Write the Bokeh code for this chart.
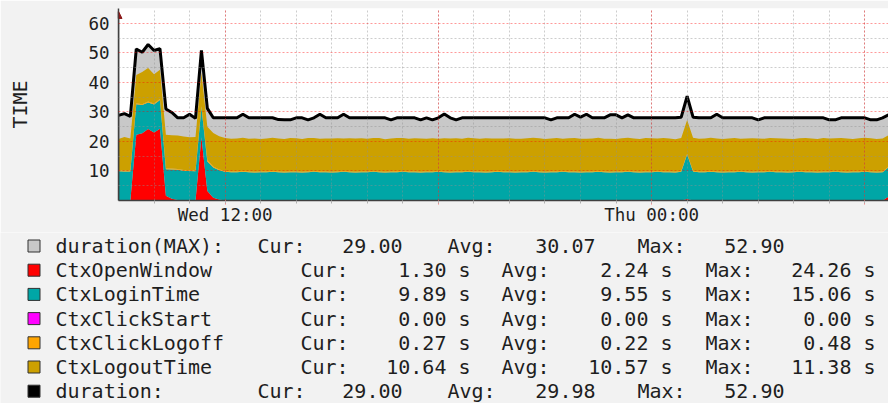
from bokeh.plotting import figure
from bokeh.models import Range1d, FixedTicker, Arrow, NormalHead, ColumnDataSource
from bokeh.layouts import column, row
from bokeh.embed import file_html
from bokeh.resources import INLINE
from bokeh.core.properties import value

# ---------------- data (10-minute samples from Wed 09:00) ----------------
START_HOUR = 9.0
STEP_MINUTES = 10

duration = [
    28.8, 29.4, 28.5, 51.3, 50.2, 52.8, 50.8, 51.4, 31.0, 29.8,
    28.0, 28.0, 29.2, 27.8, 50.8, 31.2, 28.0, 28.0, 28.0, 28.0,
    28.0, 29.2, 28.0, 28.0, 28.0, 28.0, 28.0, 27.4, 27.3, 27.3,
    28.0, 28.0, 27.3, 28.0, 29.2, 28.0, 28.0, 28.0, 29.2, 28.0,
    28.0, 28.0, 28.0, 28.0, 28.0, 28.0, 27.3, 28.0, 28.0, 28.0,
    28.0, 27.3, 28.0, 27.3, 28.0, 29.3, 28.0, 27.3, 28.0, 28.0,
    28.0, 28.0, 28.0, 28.0, 28.0, 28.0, 28.0, 28.0, 28.0, 28.0,
    28.0, 28.0, 28.0, 27.3, 28.0, 28.0, 28.0, 29.2, 28.2, 29.2,
    28.0, 28.0, 28.0, 29.0, 29.0, 28.0, 29.0, 28.0, 28.0, 28.0,
    28.0, 28.0, 28.0, 28.0, 28.0, 28.2, 35.3, 28.2, 28.0, 28.0,
    28.0, 29.2, 28.0, 28.0, 28.0, 28.0, 28.0, 28.0, 27.3, 28.0,
    28.0, 28.0, 28.0, 28.0, 28.0, 28.0, 28.0, 28.0, 28.0, 28.0,
    27.3, 27.3, 28.0, 28.0, 28.0, 28.0, 28.0, 27.3, 27.3, 28.0,
    29.0,
]

duration_max = [
    28.8, 29.4, 28.5, 51.3, 50.2, 52.9, 50.8, 51.4, 31.0, 29.8,
    28.0, 28.0, 29.2, 27.8, 50.8, 31.2, 28.0, 28.0, 28.0, 28.0,
    28.0, 29.2, 28.0, 28.0, 28.0, 28.0, 28.0, 27.4, 27.3, 27.3,
    28.0, 28.0, 27.3, 28.0, 29.2, 28.0, 28.0, 28.0, 29.2, 28.0,
    28.0, 28.0, 28.0, 28.0, 28.0, 28.0, 27.3, 28.0, 28.0, 28.0,
    28.0, 27.3, 28.0, 27.3, 28.0, 29.3, 28.0, 27.3, 28.0, 28.0,
    28.0, 28.0, 28.0, 28.0, 28.0, 28.0, 28.0, 28.0, 28.0, 28.0,
    28.0, 28.0, 28.0, 27.3, 28.0, 28.0, 28.0, 29.2, 28.2, 29.2,
    28.0, 28.0, 28.0, 29.0, 29.0, 28.0, 29.0, 28.0, 28.0, 28.0,
    28.0, 28.0, 28.0, 28.0, 28.0, 28.2, 35.3, 28.2, 28.0, 28.0,
    28.0, 29.2, 28.0, 28.0, 28.0, 28.0, 28.0, 28.0, 27.3, 28.0,
    28.0, 28.0, 28.0, 28.0, 28.0, 28.0, 28.0, 28.0, 28.0, 28.0,
    27.3, 27.3, 28.0, 28.0, 28.0, 28.0, 28.0, 27.3, 27.3, 28.0,
    29.0,
]

ctx_open_window = [
    0.0, 0.0, 0.0, 22.3, 22.8, 24.2, 23.0, 24.26, 1.6, 0.6,
    0.2, 0.0, 0.0, 0.0, 21.4, 3.2, 0.9, 0.3, 0.0, 0.0,
    0.0, 0.0, 0.0, 0.0, 0.0, 0.0, 0.0, 0.0, 0.0, 0.0,
    0.0, 0.0, 0.0, 0.0, 0.0, 0.0, 0.0, 0.0, 0.0, 0.0,
    0.0, 0.0, 0.0, 0.0, 0.0, 0.0, 0.0, 0.0, 0.0, 0.0,
    0.0, 0.0, 0.0, 0.0, 0.0, 0.0, 0.0, 0.0, 0.0, 0.0,
    0.0, 0.0, 0.0, 0.0, 0.0, 0.0, 0.0, 0.0, 0.0, 0.0,
    0.0, 0.0, 0.0, 0.0, 0.0, 0.0, 0.0, 0.0, 0.0, 0.0,
    0.0, 0.0, 0.0, 0.0, 0.0, 0.0, 0.0, 0.0, 0.0, 0.0,
    0.0, 0.0, 0.0, 0.0, 0.0, 0.0, 0.5, 0.0, 0.0, 0.0,
    0.0, 0.0, 0.0, 0.0, 0.0, 0.0, 0.0, 0.0, 0.0, 0.0,
    0.0, 0.0, 0.0, 0.0, 0.0, 0.0, 0.0, 0.0, 0.0, 0.0,
    0.0, 0.0, 0.0, 0.0, 0.0, 0.0, 0.0, 0.0, 0.0, 0.0,
    1.3,
]

ctx_login_time = [
    9.9, 9.8, 9.8, 10.3, 9.5, 9.0, 9.5, 9.8, 9.0, 9.9,
    10.2, 10.1, 10.0, 9.9, 10.2, 10.0, 10.3, 9.9, 9.7, 9.6,
    9.6, 9.7, 9.6, 9.5, 9.6, 9.6, 9.7, 9.6, 9.5, 9.6,
    9.6, 9.5, 9.6, 9.7, 9.6, 9.6, 9.5, 9.6, 9.7, 9.6,
    9.5, 9.6, 9.6, 9.7, 9.6, 9.5, 9.6, 9.6, 9.7, 9.6,
    9.6, 9.5, 9.6, 9.6, 9.7, 9.6, 9.5, 9.6, 9.6, 9.7,
    9.6, 9.6, 9.5, 9.6, 9.7, 9.6, 9.6, 9.5, 9.6, 9.6,
    9.7, 9.6, 9.5, 9.6, 9.6, 9.7, 9.6, 9.6, 9.5, 9.6,
    9.6, 9.7, 9.6, 9.5, 9.6, 9.6, 9.7, 9.6, 9.5, 9.6,
    9.6, 9.7, 9.6, 9.6, 9.5, 9.7, 15.06, 9.8, 9.6, 9.6,
    9.7, 9.6, 9.5, 9.6, 9.6, 9.7, 9.6, 9.5, 9.6, 9.6,
    9.7, 9.6, 9.6, 9.5, 9.6, 9.7, 9.6, 9.6, 9.5, 9.6,
    9.6, 9.7, 9.6, 9.5, 9.6, 9.6, 9.7, 9.6, 9.5, 9.6,
    9.89,
]

ctx_click_start = [
    0.0, 0.0, 0.0, 0.0, 0.0, 0.0, 0.0, 0.0, 0.0, 0.0,
    0.0, 0.0, 0.0, 0.0, 0.0, 0.0, 0.0, 0.0, 0.0, 0.0,
    0.0, 0.0, 0.0, 0.0, 0.0, 0.0, 0.0, 0.0, 0.0, 0.0,
    0.0, 0.0, 0.0, 0.0, 0.0, 0.0, 0.0, 0.0, 0.0, 0.0,
    0.0, 0.0, 0.0, 0.0, 0.0, 0.0, 0.0, 0.0, 0.0, 0.0,
    0.0, 0.0, 0.0, 0.0, 0.0, 0.0, 0.0, 0.0, 0.0, 0.0,
    0.0, 0.0, 0.0, 0.0, 0.0, 0.0, 0.0, 0.0, 0.0, 0.0,
    0.0, 0.0, 0.0, 0.0, 0.0, 0.0, 0.0, 0.0, 0.0, 0.0,
    0.0, 0.0, 0.0, 0.0, 0.0, 0.0, 0.0, 0.0, 0.0, 0.0,
    0.0, 0.0, 0.0, 0.0, 0.0, 0.0, 0.0, 0.0, 0.0, 0.0,
    0.0, 0.0, 0.0, 0.0, 0.0, 0.0, 0.0, 0.0, 0.0, 0.0,
    0.0, 0.0, 0.0, 0.0, 0.0, 0.0, 0.0, 0.0, 0.0, 0.0,
    0.0, 0.0, 0.0, 0.0, 0.0, 0.0, 0.0, 0.0, 0.0, 0.0,
    0.0,
]

ctx_click_logoff = [
    0.25, 0.28, 0.26, 0.30, 0.30, 0.30, 0.30, 0.30, 0.35, 0.30,
    0.26, 0.24, 0.25, 0.27, 0.30, 0.48, 0.30, 0.26, 0.25, 0.24,
    0.22, 0.25, 0.20, 0.27, 0.24, 0.21, 0.26, 0.23, 0.25, 0.22,
    0.24, 0.21, 0.25, 0.22, 0.27, 0.20, 0.23, 0.25, 0.21, 0.24,
    0.22, 0.26, 0.20, 0.24, 0.23, 0.25, 0.21, 0.27, 0.22, 0.24,
    0.25, 0.21, 0.23, 0.26, 0.20, 0.24, 0.22, 0.25, 0.23, 0.21,
    0.24, 0.22, 0.26, 0.21, 0.25, 0.23, 0.20, 0.24, 0.22, 0.25,
    0.21, 0.26, 0.23, 0.22, 0.24, 0.20, 0.25, 0.23, 0.21, 0.24,
    0.22, 0.25, 0.20, 0.24, 0.23, 0.26, 0.21, 0.22, 0.25, 0.23,
    0.24, 0.21, 0.26, 0.22, 0.23, 0.25, 0.30, 0.24, 0.21, 0.23,
    0.25, 0.22, 0.24, 0.20, 0.26, 0.23, 0.21, 0.25, 0.22, 0.24,
    0.23, 0.21, 0.25, 0.22, 0.26, 0.20, 0.24, 0.23, 0.21, 0.25,
    0.22, 0.24, 0.23, 0.26, 0.21, 0.25, 0.22, 0.24, 0.20, 0.23,
    0.27,
]

ctx_logout_time = [
    10.7, 11.38, 10.9, 9.6, 10.9, 11.38, 9.9, 9.9, 11.3, 11.3,
    11.38, 11.3, 11.2, 11.3, 11.38, 11.3, 11.38, 11.3, 11.2, 11.1,
    11.2, 11.3, 11.1, 11.2, 11.0, 11.2, 11.3, 11.2, 11.1, 11.3,
    11.2, 11.1, 11.3, 11.2, 11.0, 11.2, 11.3, 11.2, 11.1, 11.2,
    11.3, 11.2, 11.1, 11.2, 11.3, 11.0, 11.2, 11.3, 11.2, 11.1,
    11.2, 11.3, 11.1, 11.2, 11.0, 11.2, 11.3, 11.2, 11.1, 11.3,
    11.2, 11.1, 11.3, 11.2, 11.0, 11.2, 11.3, 11.2, 11.1, 11.2,
    11.3, 11.2, 11.1, 11.2, 11.3, 11.0, 11.2, 11.3, 11.2, 11.1,
    11.2, 11.3, 11.1, 11.2, 11.0, 11.2, 11.3, 11.2, 11.1, 11.3,
    11.2, 11.1, 11.3, 11.2, 11.0, 11.2, 11.38, 11.2, 11.1, 11.2,
    11.3, 11.2, 11.1, 11.2, 11.3, 11.0, 11.2, 11.3, 11.2, 11.1,
    11.2, 11.3, 11.1, 11.2, 11.0, 11.2, 11.3, 11.2, 11.1, 11.3,
    11.2, 11.1, 11.3, 11.2, 11.0, 11.2, 11.3, 11.2, 11.1, 11.2,
    10.64,
]

x_major_ticks = [12, 18, 24, 30]
x_major_labels = ["Wed 12:00", "", "Thu 00:00", ""]
y_ticks = [10, 20, 30, 40, 50, 60]
y_axis_title = "TIME"

# legend table
dur_rows = ["duration(MAX):", "duration:"]
dur_cur = ["29.00", "29.00"]
dur_avg = ["30.07", "29.98"]
dur_max_txt = ["52.90", "52.90"]
series_names = ["CtxOpenWindow", "CtxLoginTime", "CtxClickStart", "CtxClickLogoff", "CtxLogoutTime"]
series_cur = ["1.30", "9.89", "0.00", "0.27", "10.64"]
series_avg = ["2.24", "9.55", "0.00", "0.22", "10.57"]
series_max = ["24.26", "15.06", "0.00", "0.48", "11.38"]

# ---------------- styling / layout ----------------
FONT = "DejaVu Sans Mono"
BG = "#f2f2f2"
C_MAX = "#c8c8c8"
SERIES_COLORS = ["#ff0000", "#00a6a6", "#ff00ff", "#ffa500", "#cca000"]
TXT = "#1e1e1e"

W = 888
TOP_H = 232
LEG_H = 403 - TOP_H
FRAME_L, FRAME_T, FRAME_B = 118, 8, 200

hours = [START_HOUR + k * STEP_MINUTES / 60.0 for k in range(len(duration))]
src = ColumnDataSource(dict(
    t=hours, dur=duration, dmax=duration_max,
    s_open=ctx_open_window, s_login=ctx_login_time, s_click=ctx_click_start,
    s_logoff=ctx_click_logoff, s_logout=ctx_logout_time,
))

p = figure(width=W, height=TOP_H, x_range=Range1d(9.0, 30.666), y_range=Range1d(0, 65),
           output_backend="svg", toolbar_location=None,
           min_border_left=FRAME_L, min_border_right=0,
           min_border_top=FRAME_T, min_border_bottom=TOP_H - FRAME_B,
           background_fill_color="#ffffff", border_fill_color=BG, outline_line_color=None)

p.varea(x="t", y1=0, y2="dmax", source=src, fill_color=C_MAX)
p.varea_stack(["s_open", "s_login", "s_click", "s_logoff", "s_logout"], x="t",
              color=SERIES_COLORS, source=src)
p.line("t", "dur", source=src, line_color="#000000", line_width=3)

# grids
hourly = list(range(10, 31))
p.xgrid.ticker = FixedTicker(ticks=x_major_ticks, minor_ticks=hourly)
p.ygrid.ticker = FixedTicker(ticks=[0] + y_ticks, minor_ticks=[5, 15, 25, 35, 45, 55])
for g in (p.xgrid, p.ygrid):
    g.level = "overlay"
    g.grid_line_color = "#ff0000"
    g.grid_line_alpha = 0.4
    g.grid_line_dash = "2 2"
    g.minor_grid_line_color = "#909090"
    g.minor_grid_line_alpha = 0.45
    g.minor_grid_line_dash = "2 2"

# axes
p.xaxis.ticker = FixedTicker(ticks=x_major_ticks, minor_ticks=hourly)
p.xaxis.major_label_overrides = {t: l for t, l in zip(x_major_ticks, x_major_labels)}
p.yaxis.ticker = FixedTicker(ticks=y_ticks)
for ax in (p.xaxis, p.yaxis):
    ax.axis_line_color = "#404040"
    ax.axis_line_width = 1.5
    ax.major_label_text_font = FONT
    ax.major_label_text_font_size = "17.5px"
    ax.major_label_text_color = TXT
p.xaxis.major_tick_in = 0
p.xaxis.major_tick_out = 4
p.xaxis.major_tick_line_color = "#ff8080"
p.xaxis.minor_tick_in = 0
p.xaxis.minor_tick_out = 3
p.xaxis.minor_tick_line_color = "#b0b0b0"
p.xaxis.major_label_standoff = 0
p.yaxis.major_tick_in = 0
p.yaxis.major_tick_out = 0
p.yaxis.minor_tick_line_color = None
p.yaxis.major_label_standoff = 9
p.yaxis.axis_label = y_axis_title
p.yaxis.axis_label_text_font = FONT
p.yaxis.axis_label_text_font_size = "20px"
p.yaxis.axis_label_text_font_style = "normal"
p.yaxis.axis_label_text_color = TXT
p.yaxis.axis_label_standoff = 53

p.add_layout(Arrow(end=NormalHead(size=7, fill_color="#8b1a1a", line_color="#8b1a1a"),
                   x_start=9.0, y_start=0, x_end=9.0, y_end=64.0,
                   line_color="#404040", line_width=1.5))

# ---------------- legend panel (coordinates = page pixels) ----------------
lg = figure(width=W, height=LEG_H, x_range=Range1d(0, W),
            y_range=Range1d(TOP_H + LEG_H, TOP_H),
            output_backend="svg", toolbar_location=None,
            min_border_left=0, min_border_right=0, min_border_top=0, min_border_bottom=0,
            x_axis_type=None, y_axis_type=None,
            background_fill_color=BG, border_fill_color=BG, outline_line_color=None)
lg.grid.visible = False

ROW0, ROW_STEP = 245.5, 24.2
row_y = [ROW0 + ROW_STEP * k for k in range(7)]
box_colors = [C_MAX] + SERIES_COLORS + ["#000000"]
lg.rect(x=[33.5] * 7, y=row_y, width=12, height=12, fill_color=box_colors,
        line_color="#303030", line_width=1)

lx, ly, lt = [], [], []
rx, ry, rt = [], [], []
for j, r in enumerate([0, 6]):
    y = row_y[r]
    lx += [55, 257, 447, 637]
    ly += [y] * 4
    lt += [dur_rows[j], "Cur:", "Avg:", "Max:"]
    rx += [402, 595, 784]
    ry += [y] * 3
    rt += [dur_cur[j], dur_avg[j], dur_max_txt[j]]
for k in range(len(series_names)):
    y = row_y[k + 1]
    lx += [55, 300, 501, 705]
    ly += [y] * 4
    lt += [series_names[k], "Cur:", "Avg:", "Max:"]
    rx += [470, 672, 875]
    ry += [y] * 3
    rt += [series_cur[k] + " s", series_avg[k] + " s", series_max[k] + " s"]

common = dict(text_font=value(FONT), text_font_size="20px", text_color=TXT,
              text_baseline="middle")
lg.text(x=lx, y=ly, text=lt, text_align="left", **common)
lg.text(x=rx, y=ry, text=rt, text_align="right", **common)

layout = column(p, row(lg), spacing=0)
open("out.html", "w").write(file_html(layout, INLINE))
